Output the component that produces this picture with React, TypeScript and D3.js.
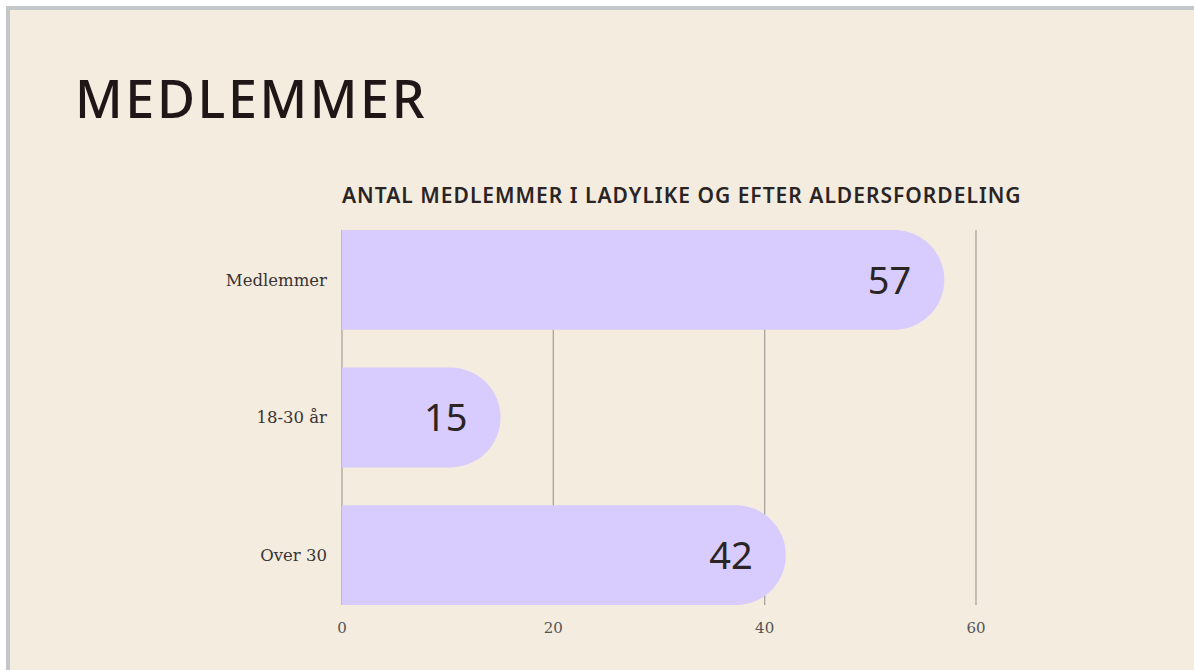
import React from 'react';
import * as d3 from 'd3';

const categories = ['Medlemmer', '18-30 år', 'Over 30'];
const values = [57, 15, 42];
const ticks = [0, 20, 40, 60];

const W = 1194;
const H = 670;

const App = () => {
  const x = d3.scaleLinear().domain([0, 60]).range([342, 976]);
  const y = d3.scaleBand().domain(categories).range([211, 624]).paddingInner(0.275).paddingOuter(0.1375);
  const bw = y.bandwidth();
  const r = bw / 2;

  const barPath = (v: number, cat: string) => {
    const y0 = y(cat) as number;
    const x0 = x(0);
    const x1 = x(v);
    const p = d3.path();
    p.moveTo(x0, y0);
    p.lineTo(x1 - r, y0);
    p.arc(x1 - r, y0 + r, r, -Math.PI / 2, Math.PI / 2);
    p.lineTo(x0, y0 + bw);
    p.closePath();
    return p.toString();
  };

  const top = y(categories[0]) as number;
  const bottom = (y(categories[categories.length - 1]) as number) + bw;

  return (
    <svg width={W} height={H} style={{ position: 'absolute', left: 0, top: 0, display: 'block' }}>
      <rect x={0} y={0} width={W} height={H} fill="#ffffff" />
      <rect x={6} y={6} width={W} height={H} fill="#c4c7c9" />
      <rect x={10} y={10} width={W} height={H} fill="#f3ecdf" />

      <text x={75} y={118} fontFamily="'Noto Sans', sans-serif" fontWeight={500} fontSize={52} letterSpacing={2.6} fill="#1f1717">
        MEDLEMMER
      </text>
      <text x={342} y={203} fontFamily="'Noto Sans', sans-serif" fontWeight={600} fontSize={21} letterSpacing={1} fill="#2a2424">
        ANTAL MEDLEMMER I LADYLIKE OG EFTER ALDERSFORDELING
      </text>

      {ticks.map(t => (
        <g key={t}>
          <line x1={x(t)} x2={x(t)} y1={top} y2={bottom} stroke="#a9a49b" strokeWidth={1.3} />
          <text x={x(t)} y={633} textAnchor="middle" fontFamily="'DejaVu Serif', serif" fontSize={15} fill="#555">
            {t}
          </text>
        </g>
      ))}

      {categories.map((c, i) => (
        <g key={c}>
          <path d={barPath(values[i], c)} fill="#d8cbfe" />
          <text
            x={327}
            y={(y(c) as number) + r}
            dy="0.35em"
            textAnchor="end"
            fontFamily="'DejaVu Serif', serif"
            fontSize={16.5}
            fill="#3a3434"
          >
            {c}
          </text>
          <text
            x={x(values[i]) - 33}
            y={(y(c) as number) + r}
            dy="0.36em"
            textAnchor="end"
            fontFamily="'Noto Sans', sans-serif"
            fontSize={38}
            fill="#2a2424"
          >
            {values[i]}
          </text>
        </g>
      ))}
    </svg>
  );
};

export default App;
